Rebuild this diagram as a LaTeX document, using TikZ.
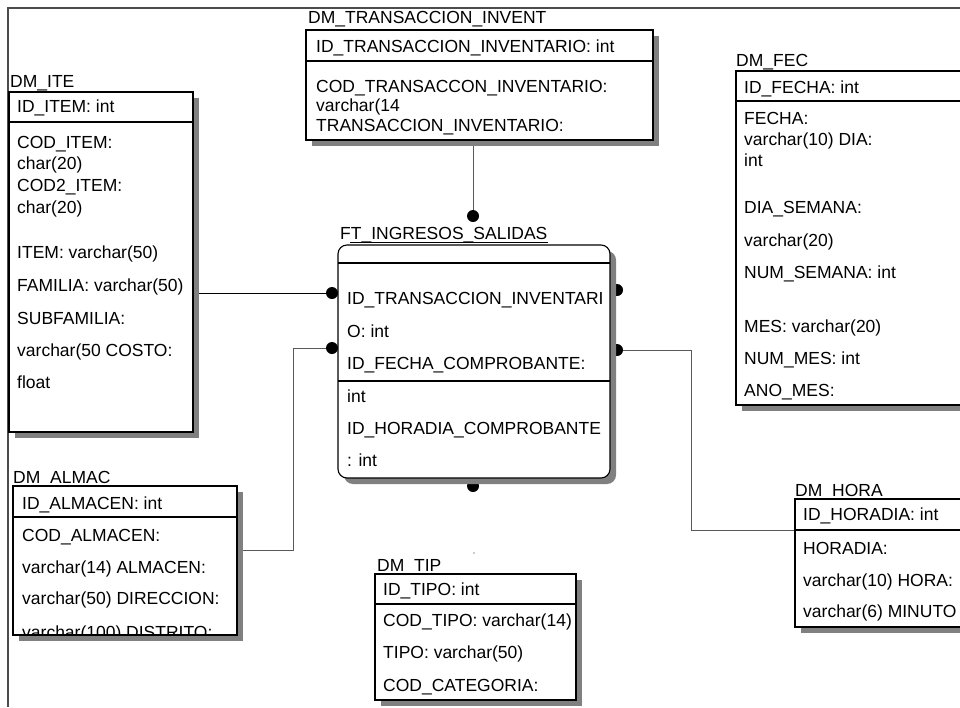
\documentclass[tikz,border=0pt]{standalone}
\usepackage{fontspec}
\setmainfont{Liberation Sans}
\usetikzlibrary{shadows,backgrounds}
\newcommand\erfont{\fontsize{17.5}{21}\selectfont}
\begin{document}
\begin{tikzpicture}[x=1pt,y=-1pt,
  table/.style={draw=black,line width=1.1pt,fill=white,inner sep=0pt,outer sep=0pt,
    anchor=north west,
    drop shadow={shadow xshift=6pt,shadow yshift=-6pt,fill=black!50,opacity=1}},
  title/.style={font=\erfont,anchor=base west,inner sep=0pt},
  row/.style={font=\erfont,anchor=base west,inner sep=0pt},
  sep/.style={line width=1.1pt},
  link/.style={line width=1pt,black},
  link2/.style={line width=1pt,black!65},
  joint/.style={circle,fill=black,inner sep=0pt,outer sep=0pt,minimum size=12pt},
  frame/.style={line width=1.5pt,black!70}]
\useasboundingbox (0,0) rectangle (960,707);
\clip (0,0) rectangle (960,707);

% page frame
\draw[frame] (960,8) -- (8,8) -- (8,707);

% DM_ITE
\node[table,minimum width=184pt,minimum height=340pt] (ite) at (9,92) {};
\node[title] (ite-t) at (10,87.5) {DM\_ITE};
\draw[sep] ([yshift=-30pt]ite.north west) -- ([yshift=-30pt]ite.north east);
\node[row] (ite-1) at (17,112.5) {ID\_ITEM: int};
\node[row] (ite-2) at (17,148.5) {COD\_ITEM:};
\node[row] (ite-3) at (17,169.5) {char(20)};
\node[row] (ite-4) at (17,191.5) {COD2\_ITEM:};
\node[row] (ite-5) at (17,213.5) {char(20)};
\node[row] (ite-6) at (17,258.5) {ITEM: varchar(50)};
\node[row] (ite-7) at (17,291.5) {FAMILIA: varchar(50)};
\node[row] (ite-8) at (17,324.5) {SUBFAMILIA:};
\node[row] (ite-9) at (17,356.5) {varchar(50 COSTO:};
\node[row] (ite-10) at (17,388.5) {float};

% DM_TRANSACCION_INVENT
\node[table,minimum width=347pt,minimum height=110pt] (trans) at (306,30) {};
\node[title] (trans-t) at (308,23.5) {DM\_TRANSACCION\_INVENT};
\draw[sep] ([yshift=-31pt]trans.north west) -- ([yshift=-31pt]trans.north east);
\node[row] (trans-1) at (316,52.5) {ID\_TRANSACCION\_INVENTARIO: int};
\node[row] (trans-2) at (316,92.5) {COD\_TRANSACCON\_INVENTARIO:};
\node[row] (trans-3) at (316,111.5) {varchar(14};
\node[row] (trans-4) at (316,131.5) {TRANSACCION\_INVENTARIO:};

% DM_FEC
\node[table,minimum width=240pt,minimum height=334pt] (fec) at (736,71) {};
\node[title] (fec-t) at (736,66.5) {DM\_FEC};
\draw[sep] ([yshift=-30pt]fec.north west) -- ([yshift=-30pt]fec.north east);
\node[row] (fec-1) at (744,93.5) {ID\_FECHA: int};
\node[row] (fec-2) at (744,124.5) {FECHA:};
\node[row] (fec-3) at (744,145.5) {varchar(10) DIA:};
\node[row] (fec-4) at (744,166.5) {int};
\node[row] (fec-5) at (744,213.5) {DIA\_SEMANA:};
\node[row] (fec-6) at (744,246.5) {varchar(20)};
\node[row] (fec-7) at (744,278.5) {NUM\_SEMANA: int};
\node[row] (fec-8) at (744,332.5) {MES: varchar(20)};
\node[row] (fec-9) at (744,364.5) {NUM\_MES: int};
\node[row] (fec-10) at (744,396.5) {ANO\_MES:};

% relationship ends of the fact table
\node[joint] (jt) at (473,216) {};
\node[joint] (jl1) at (332,293) {};
\node[joint] (jl2) at (332,348) {};
\node[joint] (jr1) at (617,290) {};
\node[joint] (jr2) at (617,350) {};
\node[joint] (jb) at (473,486) {};

% FT_INGRESOS_SALIDAS
\node[table,rounded corners=9pt,minimum width=272pt,minimum height=233pt] (ft) at (338,245) {};
\node[title] (ft-t) at (340,239.5) {FT\_INGRESOS\_SALIDAS};
\draw[line width=1pt] ([xshift=10pt,yshift=-3pt]ft-t.base west) -- ([yshift=-3pt]ft-t.base east);
\draw[line width=2.2pt] ([yshift=-18pt]ft.north west) -- ([yshift=-18pt]ft.north east);
\draw[sep] ([yshift=-136pt]ft.north west) -- ([yshift=-136pt]ft.north east);
\node[row] (ft-1) at (347,304.5) {ID\_TRANSACCION\_INVENTARI};
\node[row] (ft-2) at (347,337.5) {O: int};
\node[row] (ft-3) at (347,369.5) {ID\_FECHA\_COMPROBANTE:};
\node[row] (ft-4) at (347,402.5) {int};
\node[row] (ft-5) at (347,434.5) {ID\_HORADIA\_COMPROBANTE};
\node[row] (ft-6) at (347,466.5) {: int};

% DM_ALMAC
\node[table,minimum width=224pt,minimum height=149pt] (almac) at (13,486) {};
\node[title] (almac-t) at (13,483.5) {DM\_ALMAC};
\draw[sep] ([yshift=-31pt]almac.north west) -- ([yshift=-31pt]almac.north east);
\node[row] (almac-1) at (22,509.5) {ID\_ALMACEN: int};
\node[row] (almac-2) at (22,541.5) {COD\_ALMACEN:};
\node[row] (almac-3) at (22,573.5) {varchar(14) ALMACEN:};
\node[row] (almac-4) at (22,604.5) {varchar(50) DIRECCION:};
\begin{scope}
  \clip (almac.north west) rectangle (almac.south east);
  \node[row] (almac-5) at (22,638) {varchar(100) DISTRITO:};
\end{scope}

% DM_TIP
\node[table,minimum width=201pt,minimum height=126pt] (tip) at (375,574) {};
\node[title] (tip-t) at (377,571.5) {DM\_TIP};
\draw[sep] ([yshift=-30pt]tip.north west) -- ([yshift=-30pt]tip.north east);
\node[row] (tip-1) at (383,595.5) {ID\_TIPO: int};
\node[row] (tip-2) at (383,626.5) {COD\_TIPO: varchar(14)};
\node[row] (tip-3) at (383,658.5) {TIPO: varchar(50)};
\node[row] (tip-4) at (383,691.5) {COD\_CATEGORIA:};
\fill[black!40] (474,553) circle (0.8);

% DM_HORA
\node[table,minimum width=200pt,minimum height=128pt] (hora) at (795,499) {};
\node[title] (hora-t) at (795,496.5) {DM\_HORA};
\coordinate (hora-sep) at ([yshift=-31pt]hora.north west);
\draw[sep] (hora-sep) -- ([yshift=-31pt]hora.north east);
\node[row] (hora-1) at (803,520.5) {ID\_HORADIA: int};
\node[row] (hora-2) at (803,554.5) {HORADIA:};
\node[row] (hora-3) at (803,586.5) {varchar(10) HORA:};
\node[row] (hora-4) at (803,617.5) {varchar(6) MINUTO};

% relationship lines
\begin{scope}[on background layer]
  \draw[link2] (trans.south -| jt) -- (jt);
  \draw[link] (jl1 -| ite.east) -- (jl1);
  \coordinate (bendA) at (293,550);
  \draw[link2] (almac.east |- bendA) -- (bendA) |- (jl2);
  \coordinate (bendH) at (691,350);
  \draw[link2] (jr2) -- (bendH) |- (hora-sep);
\end{scope}
\end{tikzpicture}
\end{document}
